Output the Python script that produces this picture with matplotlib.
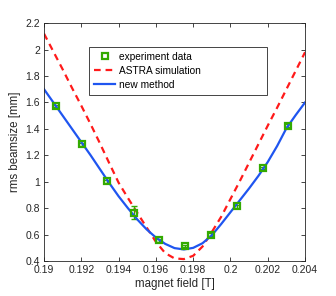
import matplotlib
matplotlib.use('Agg')
from matplotlib import pyplot as plt
from matplotlib.patches import Rectangle

plt.rcParams['font.family'] = ['Liberation Sans', 'DejaVu Sans']

# measured points
exp_x = [0.19064, 0.19204, 0.19338, 0.19481, 0.19618, 0.19756, 0.19896, 0.20033, 0.20175, 0.20307]
exp_y = [1.572, 1.282, 1.003, 0.766, 0.556, 0.513, 0.599, 0.813, 1.103, 1.424]
exp_err = [0.01, 0.01, 0.01, 0.05, 0.01, 0.01, 0.01, 0.01, 0.01, 0.01]

# curves
field = [0.1900, 0.1905, 0.1910, 0.1915, 0.1920, 0.1925, 0.1930, 0.1935, 0.1940, 0.1945,
         0.1950, 0.1955, 0.1960, 0.1965, 0.1970, 0.1975, 0.1980, 0.1985, 0.1990, 0.1995,
         0.2000, 0.2005, 0.2010, 0.2015, 0.2020, 0.2025, 0.2030, 0.2035, 0.2040]
astra = [2.120, 1.985, 1.850, 1.710, 1.575, 1.435, 1.290, 1.140, 0.993, 0.877,
         0.765, 0.655, 0.545, 0.460, 0.420, 0.415, 0.440, 0.510, 0.620, 0.735,
         0.870, 1.005, 1.145, 1.285, 1.425, 1.560, 1.700, 1.840, 1.980]
newm = [1.700, 1.600, 1.500, 1.400, 1.300, 1.200, 1.095, 0.990, 0.890, 0.800,
        0.715, 0.640, 0.578, 0.530, 0.498, 0.488, 0.500, 0.535, 0.595, 0.680,
        0.770, 0.860, 0.950, 1.045, 1.150, 1.270, 1.405, 1.505, 1.600]

axc = '#262626'
fig = plt.figure(figsize=(3.36, 2.96), dpi=100)
ax = fig.add_axes([0.131, 0.118, 0.777, 0.804])

ax.errorbar(exp_x, exp_y, yerr=exp_err, fmt='none', ecolor='#33aa00', elinewidth=1, capsize=2, zorder=2)
ax.plot(exp_x, exp_y, 's', ms=5, mfc='none', mec='#33aa00', mew=1.6, label='experiment data', zorder=3)
ax.plot(field, astra, '--', color='#ff1a1a', lw=1.6, dashes=(3, 2.2), label='ASTRA simulation', zorder=1)
ax.plot(field, newm, '-', color='#1f55f0', lw=1.6, label='new method', zorder=2)

ax.set_xlim(0.19, 0.204)
ax.set_ylim(0.4, 2.2)
ax.set_xticks([0.19, 0.192, 0.194, 0.196, 0.198, 0.2, 0.202, 0.204])
ax.set_xticklabels(['0.19', '0.192', '0.194', '0.196', '0.198', '0.2', '0.202', '0.204'])
ax.set_yticks([0.4, 0.6, 0.8, 1, 1.2, 1.4, 1.6, 1.8, 2, 2.2])
ax.set_yticklabels(['0.4', '0.6', '0.8', '1', '1.2', '1.4', '1.6', '1.8', '2', '2.2'])
ax.tick_params(direction='in', top=True, right=True, length=3, width=0.6,
               labelsize=7.5, colors=axc, pad=3)
for s in ax.spines.values():
    s.set_color(axc)
    s.set_linewidth(0.6)
ax.set_xlabel('magnet field [T]', fontsize=8.3, color=axc, labelpad=2)
ax.set_ylabel('rms beamsize [mm]', fontsize=8.3, color=axc, labelpad=3)

# wide MATLAB-style legend box
box = Rectangle((0.174, 0.696), 0.682, 0.202, transform=ax.transAxes,
                facecolor='white', edgecolor=axc, lw=0.6, zorder=4)
ax.add_patch(box)
leg = ax.legend(loc='upper left', bbox_to_anchor=(0.174, 0.898), frameon=False,
                fontsize=7.3, handlelength=2.1, borderpad=0.45, borderaxespad=0,
                labelspacing=0.4, handletextpad=0.35)
leg.set_zorder(5)

plt.savefig('out.png', dpi=100)
